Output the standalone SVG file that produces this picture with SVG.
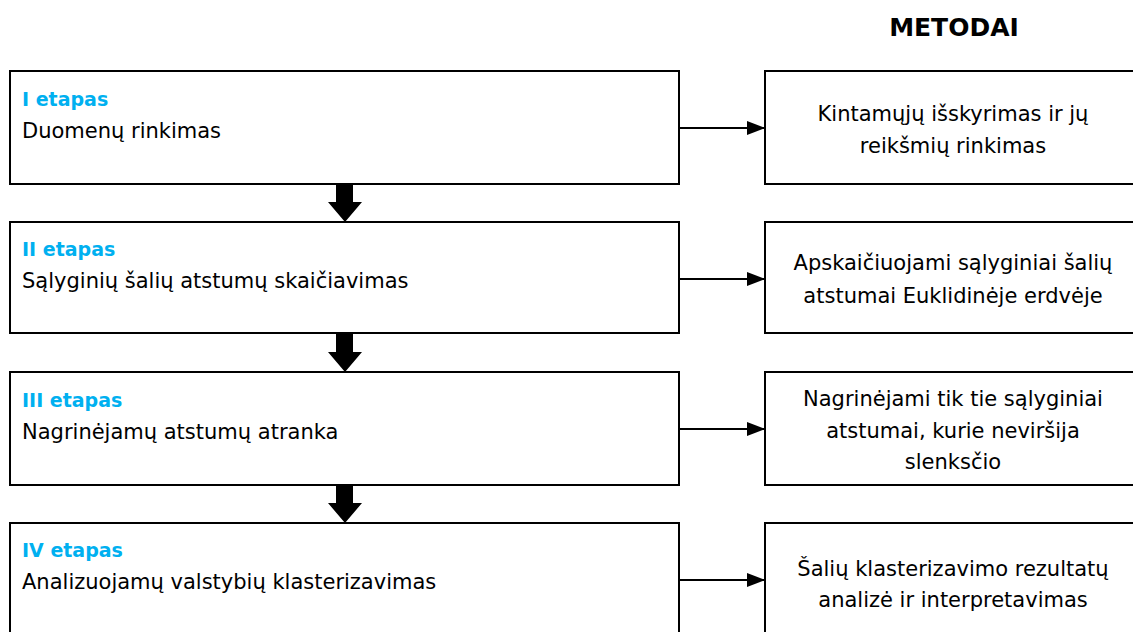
<svg xmlns="http://www.w3.org/2000/svg" width="1133" height="632" viewBox="0 0 1133 632">
<defs>
<style>
.box{fill:#fff;stroke:#000;stroke-width:2}
.t{font-family:"DejaVu Sans","Liberation Sans",sans-serif;font-size:21px;fill:#000}
.h{font-family:"DejaVu Sans","Liberation Sans",sans-serif;font-size:19px;font-weight:bold;fill:#00B0F0}
.c{text-anchor:middle}
.ln{stroke:#000;stroke-width:2;fill:none}
.blk{fill:#000}
</style>
<marker id="ah" markerWidth="18" markerHeight="14" refX="18" refY="7" orient="auto" markerUnits="userSpaceOnUse" viewBox="0 0 18 14">
<path d="M0,0 L18,7 L0,14 Z" fill="#000"/>
</marker>
</defs>
<rect width="1133" height="632" fill="#fff"/>
<text x="954" y="36" class="t c" style="font-weight:bold;font-size:25px">METODAI</text>

<g id="stage1">
<rect class="box" x="10" y="71" width="669" height="113"/>
<text x="22" y="106" class="h">I etapas</text>
<text x="22" y="138" class="t">Duomenų rinkimas</text>
</g>
<g id="stage2">
<rect class="box" x="10" y="222" width="669" height="111"/>
<text x="22" y="256" class="h">II etapas</text>
<text x="22" y="288" class="t">Sąlyginių šalių atstumų skaičiavimas</text>
</g>
<g id="stage3">
<rect class="box" x="10" y="372" width="669" height="113"/>
<text x="22" y="407" class="h">III etapas</text>
<text x="22" y="439" class="t">Nagrinėjamų atstumų atranka</text>
</g>
<g id="stage4">
<rect class="box" x="10" y="523" width="669" height="125"/>
<text x="22" y="557" class="h">IV etapas</text>
<text x="22" y="589" class="t">Analizuojamų valstybių klasterizavimas</text>
</g>

<g id="method1">
<rect class="box" x="765" y="71" width="372" height="113"/>
<text x="953" y="121" class="t c">Kintamųjų išskyrimas ir jų</text>
<text x="953" y="153" class="t c">reikšmių rinkimas</text>
</g>
<g id="method2">
<rect class="box" x="765" y="222" width="372" height="111"/>
<text x="953" y="270" class="t c">Apskaičiuojami sąlyginiai šalių</text>
<text x="953" y="303" class="t c">atstumai Euklidinėje erdvėje</text>
</g>
<g id="method3">
<rect class="box" x="765" y="372" width="372" height="113"/>
<text x="953" y="406" class="t c">Nagrinėjami tik tie sąlyginiai</text>
<text x="953" y="438" class="t c">atstumai, kurie neviršija</text>
<text x="953" y="469" class="t c">slenksčio</text>
</g>
<g id="method4">
<rect class="box" x="765" y="523" width="372" height="125"/>
<text x="953" y="576" class="t c">Šalių klasterizavimo rezultatų</text>
<text x="953" y="607" class="t c">analizė ir interpretavimas</text>
</g>

<g id="connectors">
<line class="ln" x1="679" y1="128" x2="765" y2="128" marker-end="url(#ah)"/>
<line class="ln" x1="679" y1="279" x2="765" y2="279" marker-end="url(#ah)"/>
<line class="ln" x1="679" y1="429" x2="765" y2="429" marker-end="url(#ah)"/>
<line class="ln" x1="679" y1="580" x2="765" y2="580" marker-end="url(#ah)"/>
<path class="blk" d="M336,185 H353 V202 H362 L345,222 L328,202 H336 Z"/>
<path class="blk" d="M336,334 H353 V352 H362 L345,372 L328,352 H336 Z"/>
<path class="blk" d="M336,486 H353 V503 H362 L345,523 L328,503 H336 Z"/>
</g>
</svg>
